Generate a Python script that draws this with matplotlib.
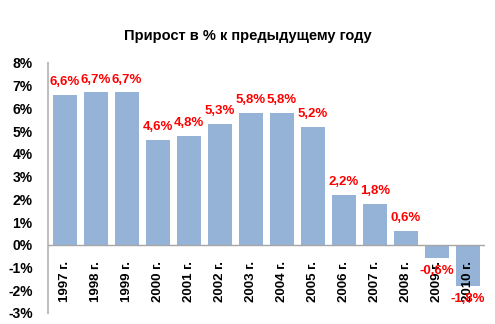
import matplotlib.pyplot as plt

years = ['1997 г.', '1998 г.', '1999 г.', '2000 г.', '2001 г.', '2002 г.', '2003 г.',
         '2004 г.', '2005 г.', '2006 г.', '2007 г.', '2008 г.', '2009 г.', '2010 г.']
growth = [6.6, 6.7, 6.7, 4.6, 4.8, 5.3, 5.8, 5.8, 5.2, 2.2, 1.8, 0.6, -0.6, -1.8]
yticks = list(range(-3, 9))

plt.rcParams['font.family'] = ['Liberation Sans', 'DejaVu Sans']

fig = plt.figure(figsize=(4.95, 3.24), dpi=100)
ax = fig.add_axes([0.097, 0.034, 0.883, 0.772])

x = range(len(years))
ax.bar(x, growth, width=0.8, color='#95B3D7', zorder=2)
ax.set_xlim(-0.55, len(years) - 0.45)
ax.set_ylim(-3, 8)

for s in ['top', 'right', 'bottom']:
    ax.spines[s].set_visible(False)
ax.spines['left'].set_color('#BFBFBF')
ax.spines['left'].set_linewidth(1.5)
ax.axhline(0, color='#A6A6A6', lw=1, zorder=3)

ax.set_yticks(yticks)
ax.set_yticklabels([f'{t}%' for t in yticks], fontsize=10, fontweight='bold')
ax.tick_params(axis='y', length=0, pad=11)
ax.set_xticks([])

# year labels sit under the zero line
for i, lab in enumerate(years):
    ax.text(i, -0.7, lab, rotation=90, ha='center', va='top',
            fontsize=9.5, fontweight='bold', zorder=4)

# value labels
for i, v in enumerate(growth):
    txt = f'{v:.1f}%'.replace('.', ',')
    if v >= 0:
        ax.text(i, v + 0.3, txt, ha='center', va='bottom', color='#FF0000',
                fontsize=9.5, fontweight='bold', zorder=5)
    else:
        ax.text(i, v - 0.3, txt, ha='center', va='top', color='#FF0000',
                fontsize=9.5, fontweight='bold', zorder=5)

fig.text(0.5, 0.89, 'Прирост в % к предыдущему году', ha='center', va='center',
         fontsize=10.5, fontweight='bold')

fig.savefig('out.png', dpi=100)
